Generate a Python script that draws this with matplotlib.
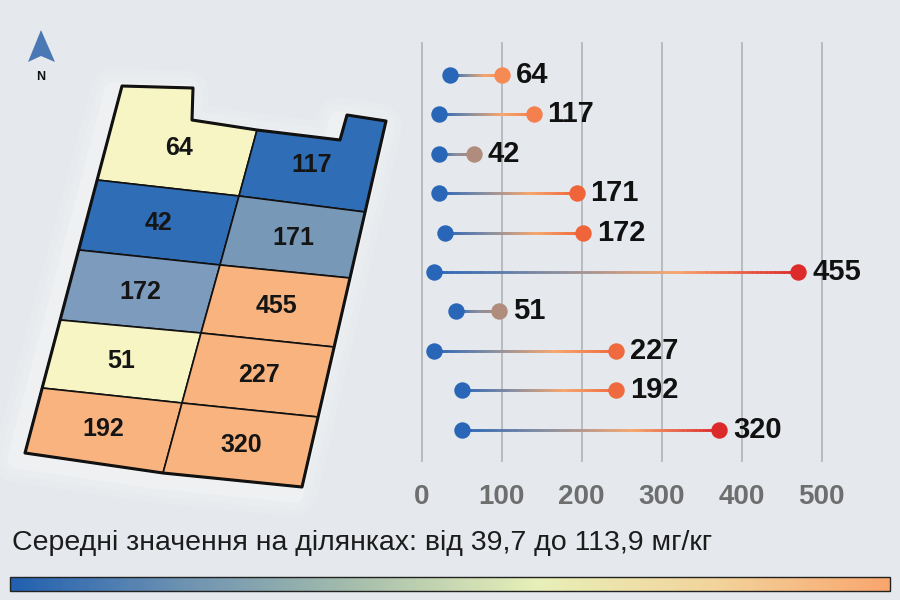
import numpy as np
import matplotlib.pyplot as plt
from matplotlib.collections import LineCollection
from matplotlib.colors import LinearSegmentedColormap
from matplotlib.patches import Polygon, Rectangle

plt.rcParams['font.family'] = ['Liberation Sans', 'DejaVu Sans']

# data
labels = [64, 117, 42, 171, 172, 455, 51, 227, 192, 320]
starts = [36, 22, 22, 22, 29, 15, 43, 15, 50, 50]
ends = [101, 140, 65, 194, 202, 471, 97, 243, 243, 372]
end_colors = ['#f58a55', '#f4804f', '#b08c7c', '#ef6438', '#ef6438',
              '#dd2a2a', '#b08c7c', '#ef6a3e', '#ef6a3e', '#dc2a2a']
x_ticks = [0, 100, 200, 300, 400, 500]
cell_colors = ['#f7f5c3', '#2f6db7', '#2f6db7', '#7898b8', '#7d9bbd',
               '#f8b37f', '#f7f5c3', '#f8b37f', '#f8b37f', '#f8b37f']
caption = 'Середні значення на ділянках: від 39,7 до 113,9 мг/кг'
bar_colors = ['#2160b0', '#6f93b2', '#a8c0ac', '#e8f0b8', '#f2d49c', '#f9a66e']

# map geometry (pixel space): left edge, middle divider, right edge
L = [(122, 86), (97, 180), (79, 250), (60, 320), (42, 388), (25, 453)]
M = [(257, 130), (239, 196), (220, 265), (201, 333), (182, 403), (163, 473)]
R = [(386, 121), (365, 212), (350, 278), (334, 347), (318, 417), (302, 487)]
tab_left = [(193, 88), (192, 120)]
tab_right = [(340, 140), (347, 115)]

BLUE = '#2a66b8'

fig = plt.figure(figsize=(9, 6), dpi=100)
fig.patch.set_facecolor('#e5e9ed')
bg = fig.add_axes([0, 0, 1, 1])
bg.set_xlim(0, 900)
bg.set_ylim(600, 0)
bg.axis('off')

# soft glow behind the map
outline = [L[0]] + tab_left + [M[0]] + tab_right + [R[0], R[5], M[5], L[5]]
for w, a in [(34, 0.10), (24, 0.14), (14, 0.2)]:
    bg.add_patch(Polygon([(x - 8, y + 6) for x, y in outline], closed=True,
                         facecolor='none', edgecolor='white', lw=w, alpha=a,
                         joinstyle='round'))

# map cells
for i, val in enumerate(labels):
    row, col = i // 2, i % 2
    if col == 0:
        a, b, c, d = L[row], M[row], M[row + 1], L[row + 1]
        extra = tab_left if row == 0 else []
    else:
        a, b, c, d = M[row], R[row], R[row + 1], M[row + 1]
        extra = tab_right if row == 0 else []
    pts = [a] + extra + [b, c, d]
    bg.add_patch(Polygon(pts, closed=True, facecolor=cell_colors[i],
                         edgecolor='#111111', lw=1.2))
    cx = (a[0] + b[0] + c[0] + d[0]) / 4
    cy = (a[1] + b[1] + c[1] + d[1]) / 4
    bg.text(cx, cy, str(val), ha='center', va='center', fontsize=18,
            weight='bold', color='#151515')
bg.add_patch(Polygon(outline, closed=True, facecolor='none',
                     edgecolor='#111111', lw=2.2, joinstyle='round'))

# north arrow
bg.add_patch(Polygon([(41, 30), (55, 62), (41, 56), (28, 62)], closed=True,
                     facecolor='#4a78b4', edgecolor='none'))
bg.text(41, 77, 'N', ha='center', va='center', fontsize=9, weight='bold',
        color='#111111')

# caption and colour bar
bg.text(12, 543, caption, ha='left', va='center', fontsize=20.5,
        color='#1c1c1c')
bar_cmap = LinearSegmentedColormap.from_list('bar', bar_colors)
bg.imshow(np.linspace(0, 1, 256)[None, :], cmap=bar_cmap, aspect='auto',
          extent=(10, 890, 591, 577), zorder=2)
bg.add_patch(Rectangle((10, 577), 880, 14, facecolor='none',
                       edgecolor='#222222', lw=1, zorder=3))

# dumbbell chart
ax = fig.add_axes([400 / 900, 138 / 600, 480 / 900, 420 / 600])
ax.patch.set_alpha(0)
ax.set_xlim(-26.9, 573.1)
ax.set_ylim(9.822, -0.838)
ax.set_xticks(x_ticks)
ax.set_yticks([])
ax.grid(axis='x', color='#b7bbc0', lw=1.4)
ax.set_axisbelow(True)
for s in ax.spines.values():
    s.set_visible(False)
ax.tick_params(axis='x', length=0, pad=16, labelsize=20, labelcolor='#6e6e6e')
for t in ax.get_xticklabels():
    t.set_fontweight('bold')

for i, (x0, x1, ec) in enumerate(zip(starts, ends, end_colors)):
    if ec == '#b08c7c':
        stops = [BLUE, '#8a8e9e', ec]
    else:
        stops = [BLUE, '#8a8e9e', '#f7a66c', ec]
    cmap = LinearSegmentedColormap.from_list(f'row{i}', stops)
    xs = np.linspace(x0, x1, 80)
    pts = np.column_stack([xs, np.full_like(xs, i)])
    segs = np.stack([pts[:-1], pts[1:]], axis=1)
    lc = LineCollection(segs, colors=cmap(np.linspace(0, 1, len(segs))),
                        lw=2, capstyle='round', zorder=2)
    ax.add_collection(lc)
    ax.scatter([x0], [i], s=140, color=BLUE, zorder=3, linewidths=0)
    ax.scatter([x1], [i], s=140, color=ec, zorder=3, linewidths=0)
    ax.annotate(str(labels[i]), (x1, i), xytext=(10, 0),
                textcoords='offset points', ha='left', va='center',
                fontsize=21, weight='bold', color='#111111')

fig.savefig('out.png', dpi=100, facecolor=fig.get_facecolor())
